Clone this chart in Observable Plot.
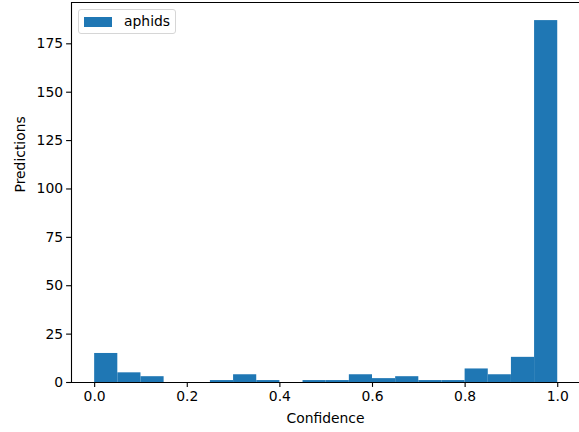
<!DOCTYPE html>
<html>
<head>
<meta charset="utf-8">
<script src="https://cdn.jsdelivr.net/npm/d3@7"></script>
<script src="https://cdn.jsdelivr.net/npm/@observablehq/plot@0.6"></script>
<style>
  html, body { margin: 0; padding: 0; background: #fff; }
  #wrap { position: relative; width: 579px; height: 432px; overflow: hidden; font-family: "DejaVu Sans", sans-serif; }
  #legend { position: absolute; left: 78px; top: 9px; width: 98px; height: 25px; border: 1px solid #d6d6d6; border-radius: 3px; background: rgba(255,255,255,0.8); box-sizing: border-box; }
  #legend .patch { position: absolute; left: 5px; top: 7px; width: 28px; height: 10px; background: #1f77b4; }
  #legend .lab { position: absolute; left: 45px; top: 2px; font-size: 13.9px; line-height: 18px; color: #000; }
</style>
</head>
<body>
<div id="wrap"></div>
<script>
const binStarts = [0.00,0.05,0.10,0.15,0.20,0.25,0.30,0.35,0.40,0.45,0.50,0.55,0.60,0.65,0.70,0.75,0.80,0.85,0.90,0.95];
const counts    = [15,5,3,0,0,1,4,1,0,1,1,4,2,3,1,1,7,4,13,187];
const binWidth = 0.05;
const xTicks = [0.0,0.2,0.4,0.6,0.8,1.0];
const yTicks = [0,25,50,75,100,125,150,175];
const seriesName = "aphids";
const xLabel = "Confidence";
const yLabel = "Predictions";

const bins = binStarts.map((s, i) => ({x1: s, x2: s + binWidth, y: counts[i]}));
const xMin = -0.05, xMax = 1.047;
const yMax = d3.max(counts) * 1.05;
const fs = 13.9;

const chart = Plot.plot({
  width: 579,
  height: 432,
  marginLeft: 71,
  marginRight: 0,
  marginTop: 2,
  marginBottom: 50,
  style: {fontFamily: "DejaVu Sans, sans-serif", fontSize: fs + "px", color: "#000", background: "#fff"},
  x: {domain: [xMin, xMax], ticks: xTicks, tickFormat: d3.format(".1f")},
  y: {domain: [0, yMax], ticks: yTicks},
  marks: [
    Plot.rectY(bins, {x1: "x1", x2: "x2", y: "y", fill: "#1f77b4", insetLeft: 0, insetRight: 0}),
    Plot.axisX({ticks: xTicks, tickFormat: d3.format(".1f"), tickSize: 4.9, tickPadding: 3.5, label: null, fontSize: fs, strokeWidth: 1.1}),
    Plot.axisY({ticks: yTicks, tickSize: 4.9, tickPadding: 3.5, label: null, fontSize: fs, strokeWidth: 1.1}),
    Plot.ruleY([0], {stroke: "#000", strokeWidth: 1.1}),
    Plot.ruleY([yMax], {stroke: "#000", strokeWidth: 1.1}),
    Plot.ruleX([xMin], {stroke: "#000", strokeWidth: 1.1}),
    Plot.text([xLabel], {text: d => d, frameAnchor: "bottom", dy: 36, lineAnchor: "middle", fontSize: fs, fill: "#000"}),
    Plot.text([yLabel], {text: d => d, frameAnchor: "left", dx: -51, rotate: -90, lineAnchor: "middle", fontSize: fs, fill: "#000"})
  ]
});

const wrap = document.getElementById("wrap");
wrap.appendChild(chart);
const leg = document.createElement("div");
leg.id = "legend";
leg.innerHTML = '<div class="patch"></div><div class="lab"></div>';
leg.querySelector(".lab").textContent = seriesName;
wrap.appendChild(leg);
</script>
</body>
</html>
